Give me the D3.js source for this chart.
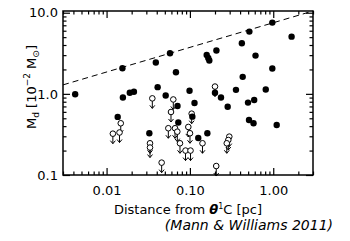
<!DOCTYPE html>
<html>
<head>
<meta charset="UTF-8">
<script src="https://cdn.jsdelivr.net/npm/d3@7"></script>
<style>
  body { margin: 0; background: #fff; }
  svg { display: block; }
  text { font-family: 'DejaVu Sans', sans-serif; fill: #000; }
</style>
</head>
<body>
<div id="chart"></div>
<script>
// axis ticks
const xMajor = [0.01, 0.1, 1];
const xTickLabels = ["0.01", "0.10", "1.00"];
const yMajor = [0.1, 1, 10];
const yTickLabels = ["0.1", "1.0", "10.0"];

// detections (filled circles): distance [pc], disk mass [1e-2 Msun]
const detDist = [0.0042, 0.0155, 0.0157, 0.0136, 0.019, 0.0213, 0.039, 0.0577, 0.068, 0.041,
  0.0512, 0.071, 0.159, 0.166, 0.171, 0.208, 0.42, 0.517, 0.975, 1.66,
  0.613, 0.975, 0.43, 0.357, 0.813, 0.591, 0.498, 0.284, 0.236, 0.2,
  0.099, 0.1135, 0.512, 0.58, 1.1, 0.0726, 0.107, 0.126, 0.162, 0.0326];
const detMass = [0.99, 2.07, 0.9, 0.52, 1.03, 1.06, 2.43, 3.17, 1.85, 1.21,
  0.955, 0.71, 3.02, 2.77, 2.58, 3.43, 4.21, 5.85, 7.55, 5.07,
  2.96, 2.05, 1.62, 1.12, 1.13, 0.84, 0.78, 0.695, 0.9, 1.03,
  1.09, 0.77, 0.477, 0.434, 0.414, 0.444, 0.524, 0.286, 0.327, 0.327];

// upper limits (open circles with arrows)
const limDist = [0.0354, 0.0632, 0.0593, 0.105, 0.2, 0.0148, 0.0143, 0.0119, 0.0332, 0.0332,
  0.0458, 0.0551, 0.0663, 0.0706, 0.0957, 0.1002, 0.076, 0.0886, 0.1017, 0.1416,
  0.297, 0.289, 0.277, 0.207];
const limMass = [0.88, 0.853, 0.598, 0.57, 1.23, 0.434, 0.334, 0.323, 0.246, 0.218,
  0.142, 0.377, 0.377, 0.342, 0.391, 0.327, 0.246, 0.2, 0.2, 0.246,
  0.297, 0.27, 0.246, 0.129];

// dashed line
const lineDist = [0.003, 3];
const lineMass = [1.29, 10.5];

const W = 350, H = 241;
const mLeft = 63, mRight = 313, mTop = 11, mBottom = 175;

const svg = d3.select("#chart").append("svg")
  .attr("width", W).attr("height", H);

const x = d3.scaleLog().domain([0.003, 3]).range([mLeft, mRight]);
const y = d3.scaleLog().domain([0.1, 10.5]).range([mBottom, mTop]);

const isMajor = v => Math.abs(Math.log10(v) - Math.round(Math.log10(v))) < 1e-6;
const xMinor = x.ticks().filter(v => !isMajor(v));
const yMinor = y.ticks().filter(v => !isMajor(v));

// ticks on all four sides, pointing inward
function ticks(axisFn, scale, vals, size, tr, labels) {
  const a = axisFn(scale).tickValues(vals).tickSizeInner(size).tickSizeOuter(0).tickPadding(6);
  a.tickFormat(labels ? (d, i) => labels[i] : () => "");
  const g = svg.append("g").attr("transform", tr).call(a);
  g.select(".domain").remove();
  g.selectAll("line").attr("stroke", "#000").attr("stroke-width", 1.2);
  g.selectAll("text").attr("font-size", 13).attr("font-family", "DejaVu Sans");
  return g;
}
ticks(d3.axisBottom, x, xMajor, -7, `translate(0,${mBottom})`, xTickLabels)
  .selectAll("text").attr("dy", "1.05em");
ticks(d3.axisBottom, x, xMinor, -3.5, `translate(0,${mBottom})`);
ticks(d3.axisTop, x, xMajor, -7, `translate(0,${mTop})`);
ticks(d3.axisTop, x, xMinor, -3.5, `translate(0,${mTop})`);
ticks(d3.axisLeft, y, yMajor, -7, `translate(${mLeft},0)`, yTickLabels)
  .selectAll("text").attr("x", -5);
ticks(d3.axisLeft, y, yMinor, -3.5, `translate(${mLeft},0)`);
ticks(d3.axisRight, y, yMajor, -7, `translate(${mRight},0)`);
ticks(d3.axisRight, y, yMinor, -3.5, `translate(${mRight},0)`);

// frame
svg.append("rect")
  .attr("x", mLeft).attr("y", mTop)
  .attr("width", mRight - mLeft).attr("height", mBottom - mTop)
  .attr("fill", "none").attr("stroke", "#000").attr("stroke-width", 1.5);

// dashed line
svg.append("path")
  .datum(d3.zip(lineDist, lineMass))
  .attr("d", d3.line().x(d => x(d[0])).y(d => y(d[1])))
  .attr("fill", "none").attr("stroke", "#000").attr("stroke-width", 1)
  .attr("stroke-dasharray", "6,4");

// upper limits
const lim = svg.append("g").selectAll("g")
  .data(d3.zip(limDist, limMass))
  .join("g")
  .attr("transform", d => `translate(${x(d[0])},${y(d[1])})`);
lim.append("circle").attr("r", 2.8)
  .attr("fill", "#fff").attr("stroke", "#000").attr("stroke-width", 1);
lim.append("path")
  .attr("d", "M0,2.8V10M-2.5,7L0,10L2.5,7")
  .attr("fill", "none").attr("stroke", "#000").attr("stroke-width", 1);

// detections
svg.append("g").selectAll("circle")
  .data(d3.zip(detDist, detMass))
  .join("circle")
  .attr("cx", d => x(d[0])).attr("cy", d => y(d[1]))
  .attr("r", 3.2).attr("fill", "#000");

// axis titles
const xt = svg.append("text")
  .attr("x", (mLeft + mRight) / 2).attr("y", 214)
  .attr("text-anchor", "middle").attr("font-size", 13);
xt.append("tspan").text("Distance from ");
xt.append("tspan").text("θ").attr("font-style", "italic").attr("font-weight", "bold");
xt.append("tspan").text("1").attr("font-size", 8).attr("dy", -5);
xt.append("tspan").text("C [pc]").attr("dy", 5);

const yt = svg.append("text")
  .attr("transform", `translate(36,${(mTop + mBottom) / 2 - 6}) rotate(-90)`)
  .attr("text-anchor", "middle").attr("font-size", 13);
yt.append("tspan").text("M");
yt.append("tspan").text("d").attr("font-size", 9).attr("dy", 3);
yt.append("tspan").text(" [10").attr("dy", -3);
yt.append("tspan").text("−2").attr("font-size", 9).attr("dy", -6);
yt.append("tspan").text(" M").attr("dy", 6);
yt.append("tspan").text("⊙").attr("font-size", 9).attr("dy", 3);
yt.append("tspan").text("]").attr("dy", -3);

svg.append("text")
  .attr("x", 333).attr("y", 230)
  .attr("text-anchor", "end")
  .attr("font-family", "'Open Sans', sans-serif")
  .attr("font-style", "italic").attr("font-size", 14)
  .text("(Mann & Williams 2011)");
</script>
</body>
</html>
